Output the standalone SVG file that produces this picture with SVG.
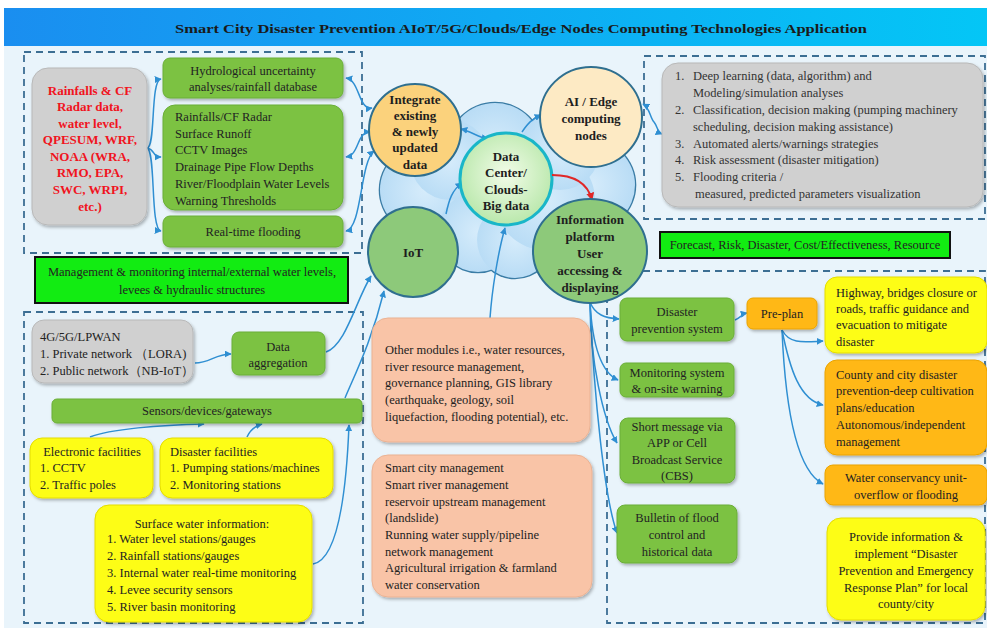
<svg xmlns="http://www.w3.org/2000/svg" width="987" height="628" viewBox="0 0 987 628">
  <defs>
    <linearGradient id="titleGrad" x1="0" y1="0" x2="1" y2="0">
      <stop offset="0" stop-color="#1a8ef0"/>
      <stop offset="1" stop-color="#04c6f6"/>
    </linearGradient>
    <radialGradient id="dcGrad" cx="0.5" cy="0.45" r="0.6">
      <stop offset="0" stop-color="#f2fce8"/>
      <stop offset="1" stop-color="#b4e6a6"/>
    </radialGradient>
    <radialGradient id="cloudGrad" cx="0.5" cy="0.5" r="0.6">
      <stop offset="0" stop-color="#d6ecfb"/>
      <stop offset="1" stop-color="#b3d9f4"/>
    </radialGradient>
    <filter id="shadow" x="-10%" y="-10%" width="125%" height="130%">
      <feDropShadow dx="1.5" dy="2" stdDeviation="1.4" flood-color="#000" flood-opacity="0.28"/>
    </filter>
    <marker id="arrow" viewBox="0 0 10 10" refX="9" refY="5" markerWidth="7" markerHeight="7" markerUnits="userSpaceOnUse" orient="auto-start-reverse">
      <path d="M0,0 L10,5 L0,10 z" fill="#2f8fd2"/>
    </marker>
    <marker id="arrowRed" viewBox="0 0 10 10" refX="9" refY="5" markerWidth="8" markerHeight="8" markerUnits="userSpaceOnUse" orient="auto">
      <path d="M0,0 L10,5 L0,10 z" fill="#e02828"/>
    </marker>
    <style>
      .t { font-family: "Liberation Serif", "Times New Roman", serif; fill: #222; font-size: 12.5px; }
      .c { text-anchor: middle; }
      .b { font-weight: bold; }
      .red { fill: #f0141e; font-weight: bold; font-size: 13px; }
      .circ { font-weight: bold; font-size: 13px; fill: #1e1e1e; text-anchor: middle; }
      .dash { fill: none; stroke: #3c6e93; stroke-width: 1.8; stroke-dasharray: 7 5; }
      .green { fill: #7cc243; stroke: #6aae36; stroke-width: 1; filter: url(#shadow); }
      .gray { fill: #d0d0d0; stroke: #b8b8b8; stroke-width: 1; filter: url(#shadow); }
      .yellow { fill: #fdfd12; stroke: #e4dc00; stroke-width: 1; filter: url(#shadow); }
      .orange { fill: #ffb813; stroke: #eaa300; stroke-width: 1; filter: url(#shadow); }
      .peach { fill: #f9c4a7; stroke: #eab293; stroke-width: 1; filter: url(#shadow); }
      .bright { fill: #12ec12; stroke: #111; stroke-width: 2; }
      .conn { fill: none; stroke: #2f8fd2; stroke-width: 1.5; }
      .cloudEdge { fill: #3a7ca5; }
      .cloudFill { fill: url(#cloudGrad); }
      .node { stroke: #2f6f8f; stroke-width: 2; }
    </style>
  </defs>

  <!-- page background and title bar -->
  <rect x="0" y="0" width="987" height="628" fill="#ffffff"/>
  <rect x="4" y="46" width="983" height="582" fill="#e9f4fb"/>
  <rect x="4" y="8" width="983" height="38" fill="url(#titleGrad)"/>
  <text class="t b c" x="521" y="33" font-size="19" textLength="692" lengthAdjust="spacingAndGlyphs" style="fill:#1a1a1a">Smart City Disaster Prevention AIoT/5G/Clouds/Edge Nodes Computing Technologies Application</text>

  <!-- dashed group frames -->
  <g id="frames">
    <rect class="dash" x="24" y="52" width="338" height="201"/>
    <rect class="dash" x="644" y="56" width="341" height="163"/>
    <rect class="dash" x="24" y="312" width="339" height="311"/>
    <rect class="dash" x="607" y="271" width="378" height="352"/>
  </g>

  <!-- cloud behind the central nodes -->
  <g id="cloud">
    <g class="cloudEdge">
      <circle cx="425" cy="190" r="46.3"/>
      <circle cx="495" cy="150" r="48.3"/>
      <circle cx="590" cy="185" r="46.3"/>
      <circle cx="478" cy="232" r="41.3"/>
      <circle cx="515" cy="240" r="39.3"/>
      <circle cx="545" cy="200" r="51.3"/>
      <circle cx="560" cy="150" r="41.3"/>
      <circle cx="450" cy="160" r="41.3"/>
    </g>
    <g class="cloudFill">
      <circle cx="425" cy="190" r="45"/>
      <circle cx="495" cy="150" r="47"/>
      <circle cx="590" cy="185" r="45"/>
      <circle cx="478" cy="232" r="40"/>
      <circle cx="515" cy="240" r="38"/>
      <circle cx="545" cy="200" r="50"/>
      <circle cx="560" cy="150" r="40"/>
      <circle cx="450" cy="160" r="40"/>
    </g>
  </g>

  <!-- connectors -->
  <g id="connectors">
    <path class="conn" d="M147,148 C156,148 150,80 161,79" marker-end="url(#arrow)"/>
    <path class="conn" d="M147,148 C156,150 152,157 161,157" marker-end="url(#arrow)"/>
    <path class="conn" d="M147,148 C156,150 150,230 161,231" marker-end="url(#arrow)"/>
    <path class="conn" d="M346,78 C360,80 358,110 372,108" marker-start="url(#arrow)" marker-end="url(#arrow)"/>
    <path class="conn" d="M346,157 C360,155 356,132 370,132" marker-start="url(#arrow)" marker-end="url(#arrow)"/>
    <path class="conn" d="M346,231 C362,228 360,162 374,151" marker-start="url(#arrow)" marker-end="url(#arrow)"/>
    <path class="conn" d="M461,129 C470,131 478,137 488,139" marker-start="url(#arrow)" marker-end="url(#arrow)"/>
    <path class="conn" d="M522,132 C528,123 532,119 541,115" marker-end="url(#arrow)"/>
    <path class="conn" d="M643,104 C650,108 650,118 654,122 C658,127 657,132 662,134" marker-start="url(#arrow)" marker-end="url(#arrow)"/>
    <path class="conn" d="M446,214 C449,200 452,190 462,183" marker-end="url(#arrow)"/>
    <path class="conn" d="M490,318 C492,290 498,252 505,228" marker-end="url(#arrow)"/>
    <path class="conn" d="M326,352 C346,345 356,300 371,276" marker-end="url(#arrow)"/>
    <path class="conn" d="M345,398 C356,372 372,340 384,291" marker-end="url(#arrow)"/>
    <path class="conn" d="M195,363 C210,363 215,354 231,354" marker-end="url(#arrow)"/>
    <path class="conn" d="M90,437 C110,429 160,425 204,424" marker-end="url(#arrow)"/>
    <path class="conn" d="M247,437 C250,430 255,426 262,424" marker-end="url(#arrow)"/>
    <path class="conn" d="M313,564 C336,560 346,500 349,425" marker-end="url(#arrow)"/>
    <path class="conn" d="M590,302 C595,315 605,318 619,319" marker-end="url(#arrow)"/>
    <path class="conn" d="M590,302 C592,340 600,372 618,380" marker-end="url(#arrow)"/>
    <path class="conn" d="M590,302 C590,360 603,420 617,443" marker-end="url(#arrow)"/>
    <path class="conn" d="M590,302 C594,400 605,500 617,533" marker-end="url(#arrow)"/>
    <path class="conn" d="M735,320 C740,318 742,314 747,313" marker-end="url(#arrow)"/>
    <path class="conn" d="M782,330 C790,345 805,342 823,341" marker-end="url(#arrow)"/>
    <path class="conn" d="M782,330 C790,370 800,400 823,405" marker-end="url(#arrow)"/>
    <path class="conn" d="M782,330 C785,400 795,470 823,484" marker-end="url(#arrow)"/>
  </g>

  <!-- central circular nodes -->
  <g id="integrate">
    <circle class="node" cx="415" cy="130" r="46" fill="#fbd27c"/>
    <text class="t circ" x="415" y="104">Integrate</text>
    <text class="t circ" x="415" y="120">existing</text>
    <text class="t circ" x="415" y="136">&amp; newly</text>
    <text class="t circ" x="415" y="152">updated</text>
    <text class="t circ" x="415" y="169">data</text>
  </g>
  <g id="ai-edge">
    <ellipse class="node" cx="591" cy="117" rx="51" ry="50" fill="#fdeac4"/>
    <text class="t circ" x="591" y="106">AI / Edge</text>
    <text class="t circ" x="591" y="123">computing</text>
    <text class="t circ" x="591" y="140">nodes</text>
  </g>
  <g id="data-center">
    <circle cx="506" cy="179" r="46" fill="url(#dcGrad)" stroke="#19b6c8" stroke-width="3"/>
    <text class="t circ" x="506" y="161">Data</text>
    <text class="t circ" x="506" y="177">Center/</text>
    <text class="t circ" x="506" y="194">Clouds-</text>
    <text class="t circ" x="506" y="210">Big data</text>
  </g>
  <path d="M552,175 C575,175 588,184 592,200" fill="none" stroke="#e02828" stroke-width="2" marker-end="url(#arrowRed)"/>
  <g id="iot">
    <circle class="node" cx="413" cy="252" r="45" fill="#8dc97a"/>
    <text class="t circ" x="413" y="257">IoT</text>
  </g>
  <g id="info-platform">
    <ellipse class="node" cx="590" cy="251" rx="57" ry="52" fill="#8dc97a"/>
    <text class="t circ" x="590" y="224">Information</text>
    <text class="t circ" x="590" y="241">platform</text>
    <text class="t circ" x="590" y="258">User</text>
    <text class="t circ" x="590" y="275">accessing &amp;</text>
    <text class="t circ" x="590" y="292">displaying</text>
  </g>

  <!-- upper left: data sources -->
  <g id="data-sources">
    <rect class="gray" x="32" y="68" width="115" height="157" rx="16"/>
    <text class="t red c" x="90" y="95">Rainfalls &amp; CF</text>
    <text class="t red c" x="90" y="111">Radar data,</text>
    <text class="t red c" x="90" y="128">water level,</text>
    <text class="t red c" x="90" y="144">QPESUM, WRF,</text>
    <text class="t red c" x="90" y="161">NOAA (WRA,</text>
    <text class="t red c" x="90" y="177">RMO, EPA,</text>
    <text class="t red c" x="90" y="194">SWC, WRPI,</text>
    <text class="t red c" x="90" y="211">etc.)</text>
  </g>
  <g id="hydrological">
    <rect class="green" x="163" y="58" width="180" height="40" rx="7"/>
    <text class="t c" x="253" y="75">Hydrological uncertainty</text>
    <text class="t c" x="253" y="91">analyses/rainfall database</text>
  </g>
  <g id="observations">
    <rect class="green" x="163" y="105" width="180" height="105" rx="12"/>
    <text class="t" x="175" y="121">Rainfalls/CF Radar</text>
    <text class="t" x="175" y="138">Surface Runoff</text>
    <text class="t" x="175" y="154">CCTV Images</text>
    <text class="t" x="175" y="171">Drainage Pipe Flow Depths</text>
    <text class="t" x="175" y="188">River/Floodplain Water Levels</text>
    <text class="t" x="175" y="205">Warning Thresholds</text>
  </g>
  <g id="real-time-flooding">
    <rect class="green" x="163" y="216" width="180" height="31" rx="7"/>
    <text class="t c" x="253" y="236">Real-time flooding</text>
  </g>
  <g id="management">
    <rect class="bright" x="35" y="257" width="313" height="46"/>
    <text class="t c" x="192" y="276">Management &amp; monitoring internal/external water levels,</text>
    <text class="t c" x="192" y="294">levees &amp; hydraulic structures</text>
  </g>

  <!-- upper right: analytics -->
  <g id="analytics">
    <rect class="gray" x="662" y="63" width="321" height="144" rx="16"/>
    <g class="t" style="fill:#333">
      <text x="675" y="80">1.</text><text x="693" y="80">Deep learning (data, algorithm) and</text>
      <text x="693" y="97">Modeling/simulation analyses</text>
      <text x="675" y="114">2.</text><text x="693" y="114">Classification, decision making (pumping machinery</text>
      <text x="693" y="131">scheduling, decision making assistance)</text>
      <text x="675" y="148">3.</text><text x="693" y="148">Automated alerts/warnings strategies</text>
      <text x="675" y="164">4.</text><text x="693" y="164">Risk assessment (disaster mitigation)</text>
      <text x="675" y="181">5.</text><text x="693" y="181">Flooding criteria /</text>
      <text x="695" y="198">measured, predicted parameters visualization</text>
    </g>
  </g>
  <g id="forecast">
    <rect class="bright" x="660" y="232" width="290" height="26"/>
    <text class="t c" x="805" y="249" font-size="12">Forecast, Risk, Disaster, Cost/Effectiveness, Resource</text>
  </g>

  <!-- lower left: networks and sensing -->
  <g id="network">
    <rect class="gray" x="32" y="320" width="161" height="63" rx="12"/>
    <text class="t" x="40" y="341">4G/5G/LPWAN</text>
    <text class="t" x="40" y="358">1. Private network （LORA)</text>
    <text class="t" x="40" y="375">2. Public network（NB-IoT）</text>
  </g>
  <g id="data-aggregation">
    <rect class="green" x="232" y="332" width="93" height="43" rx="7"/>
    <text class="t c" x="278" y="351">Data</text>
    <text class="t c" x="278" y="367">aggregation</text>
  </g>
  <g id="sensors">
    <rect class="green" x="52" y="399" width="310" height="24" rx="5"/>
    <text class="t c" x="207" y="415">Sensors/devices/gateways</text>
  </g>
  <g id="electronic-facilities">
    <rect class="yellow" x="30" y="438" width="123" height="60" rx="12"/>
    <text class="t c" x="92" y="456">Electronic facilities</text>
    <text class="t" x="40" y="472">1. CCTV</text>
    <text class="t" x="40" y="489">2. Traffic poles</text>
  </g>
  <g id="disaster-facilities">
    <rect class="yellow" x="160" y="438" width="173" height="60" rx="12"/>
    <text class="t" x="170" y="456">Disaster facilities</text>
    <text class="t" x="170" y="472">1. Pumping  stations/machines</text>
    <text class="t" x="170" y="489">2. Monitoring stations</text>
  </g>
  <g id="surface-water">
    <rect class="yellow" x="95" y="505" width="217" height="117" rx="14"/>
    <text class="t c" x="202" y="528" font-size="12">Surface water information:</text>
    <text class="t" x="107" y="543" font-size="12">1. Water level stations/gauges</text>
    <text class="t" x="107" y="560" font-size="12">2. Rainfall stations/gauges</text>
    <text class="t" x="107" y="577" font-size="12">3. Internal water real-time monitoring</text>
    <text class="t" x="107" y="594" font-size="12">4. Levee security sensors</text>
    <text class="t" x="107" y="611" font-size="12">5. River basin monitoring</text>
  </g>

  <!-- centre: other modules -->
  <g id="other-modules">
    <rect class="peach" x="372" y="318" width="218" height="124" rx="16"/>
    <text class="t" x="385" y="354" font-size="12">Other modules i.e., water resources,</text>
    <text class="t" x="385" y="371" font-size="12">river resource management,</text>
    <text class="t" x="385" y="387" font-size="12">governance planning, GIS library</text>
    <text class="t" x="385" y="404" font-size="12">(earthquake, geology, soil</text>
    <text class="t" x="385" y="421" font-size="12">liquefaction, flooding potential), etc.</text>
  </g>
  <g id="smart-city">
    <rect class="peach" x="372" y="455" width="220" height="142" rx="16"/>
    <text class="t" x="385" y="472" font-size="12">Smart city management</text>
    <text class="t" x="385" y="489" font-size="12">Smart river management</text>
    <text class="t" x="385" y="506" font-size="12">reservoir upstream management</text>
    <text class="t" x="385" y="522" font-size="12">(landslide)</text>
    <text class="t" x="385" y="539" font-size="12">Running water supply/pipeline</text>
    <text class="t" x="385" y="556" font-size="12">network management</text>
    <text class="t" x="385" y="572" font-size="12">Agricultural irrigation &amp; farmland</text>
    <text class="t" x="385" y="589" font-size="12">water conservation</text>
  </g>

  <!-- lower right: services -->
  <g id="disaster-prevention">
    <rect class="green" x="620" y="298" width="114" height="43" rx="7"/>
    <text class="t c" x="677" y="316">Disaster</text>
    <text class="t c" x="677" y="333">prevention system</text>
  </g>
  <g id="pre-plan">
    <rect class="orange" x="747" y="298" width="70" height="31" rx="6"/>
    <text class="t c" x="782" y="318">Pre-plan</text>
  </g>
  <g id="monitoring">
    <rect class="green" x="620" y="363" width="114" height="34" rx="6"/>
    <text class="t c" x="677" y="377">Monitoring system</text>
    <text class="t c" x="677" y="393">&amp; on-site warning</text>
  </g>
  <g id="short-message">
    <rect class="green" x="620" y="418" width="115" height="65" rx="8"/>
    <text class="t c" x="677" y="431">Short message via</text>
    <text class="t c" x="677" y="447">APP or Cell</text>
    <text class="t c" x="677" y="464">Broadcast Service</text>
    <text class="t c" x="677" y="480">(CBS)</text>
  </g>
  <g id="bulletin">
    <rect class="green" x="617" y="505" width="120" height="58" rx="8"/>
    <text class="t c" x="677" y="522">Bulletin of flood</text>
    <text class="t c" x="677" y="539">control and</text>
    <text class="t c" x="677" y="556">historical data</text>
  </g>
  <g id="highway">
    <rect class="yellow" x="825" y="277" width="162" height="76" rx="12"/>
    <text class="t" x="836" y="297">Highway, bridges closure or</text>
    <text class="t" x="836" y="313">roads, traffic guidance and</text>
    <text class="t" x="836" y="329">evacuation to mitigate</text>
    <text class="t" x="836" y="346">disaster</text>
  </g>
  <g id="county-city">
    <rect class="orange" x="825" y="360" width="162" height="95" rx="12"/>
    <text class="t" x="836" y="379">County and city disaster</text>
    <text class="t" x="836" y="395">prevention-deep cultivation</text>
    <text class="t" x="836" y="412">plans/education</text>
    <text class="t" x="836" y="429">Autonomous/independent</text>
    <text class="t" x="836" y="446">management</text>
  </g>
  <g id="water-conservancy">
    <rect class="orange" x="825" y="465" width="162" height="40" rx="8"/>
    <text class="t c" x="906" y="482">Water conservancy unit-</text>
    <text class="t c" x="906" y="499">overflow or flooding</text>
  </g>
  <g id="provide-information">
    <rect class="yellow" x="827" y="518" width="158" height="102" rx="14"/>
    <text class="t c" x="906" y="541">Provide information &amp;</text>
    <text class="t c" x="906" y="558">implement “Disaster</text>
    <text class="t c" x="906" y="575">Prevention and Emergency</text>
    <text class="t c" x="906" y="592">Response Plan” for local</text>
    <text class="t c" x="906" y="608">county/city</text>
  </g>
</svg>
